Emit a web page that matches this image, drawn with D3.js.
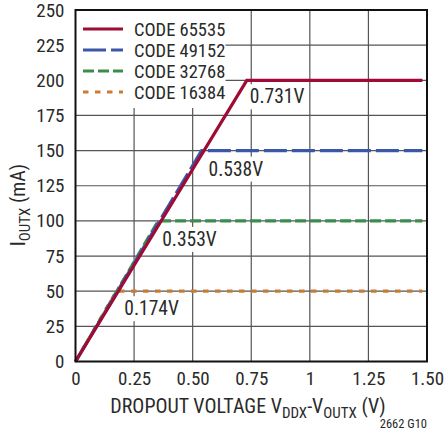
<!DOCTYPE html>
<html><head><meta charset="utf-8">
<script src="https://cdn.jsdelivr.net/npm/d3@7"></script>
<style>
html,body{margin:0;padding:0;background:#fff;}
text{font-family:"Liberation Sans Narrow","Roboto Condensed","Arial Narrow",Arial,sans-serif;fill:#2a2a2a;}
</style></head>
<body><svg id="c" width="445" height="433"></svg>
<script>
const codes = ["CODE 65535","CODE 49152","CODE 32768","CODE 16384"];
const kneeV = [0.731,0.538,0.353,0.174];
const maxI = [200,150,100,50];
const endV = 1.48;
const kneeLabels = ["0.731V","0.538V","0.353V","0.174V"];
const colors = ["#9e0b34","#3b57a9","#3a8d4b","#c97c34"];
const dashes = [null,"23,5","11,4","5.5,6.5"];
const xTicks = [0,0.25,0.5,0.75,1,1.25,1.5];
const xTickLabels = ["0","0.25","0.50","0.75","1","1.25","1.50"];
const yTicks = [0,25,50,75,100,125,150,175,200,225,250];

const svg = d3.select("#c");
const L=75.5,R=427,T=10,B=361.5;
const x = d3.scaleLinear().domain([0,1.5]).range([L,R]);
const y = d3.scaleLinear().domain([0,250]).range([B,T]);

// grid
const g = svg.append("g");
g.selectAll("line.v").data(xTicks.slice(1,-1)).join("line")
  .attr("x1",d=>x(d)).attr("x2",d=>x(d)).attr("y1",T).attr("y2",B)
  .attr("stroke","#555").attr("stroke-width",1.2);
g.selectAll("line.h").data(yTicks.slice(1,-1)).join("line")
  .attr("x1",L).attr("x2",R).attr("y1",d=>y(d)).attr("y2",d=>y(d))
  .attr("stroke","#555").attr("stroke-width",1.2);

// legend background
svg.append("rect").attr("x",L).attr("y",T).attr("width",150).attr("height",98).attr("fill","#fff");

// knee labels
const lab = svg.append("g").style("font-size","19.5px");
const labNodes = kneeLabels.map((t,i)=>{
  const tx = x(kneeV[i]) + [3,7,4,8][i];
  const ty = y(maxI[i]) + [23,25,25,24][i];
  return lab.append("text").attr("x",tx).attr("y",ty).text(t);
});
const bgG = svg.insert("g", () => lab.node());
labNodes.forEach(n=>{
  const b = n.node().getBBox();
  bgG.append("rect").attr("x",b.x-2).attr("y",b.y-1).attr("width",b.width+4).attr("height",b.height+2).attr("fill","#fff");
});

// data lines
const line = d3.line().x(d=>x(d[0])).y(d=>y(d[1]));
const dl = svg.append("g");
[3,2,1,0].forEach(i=>{
  const pts = [[0,0],[kneeV[i],maxI[i]],[endV,maxI[i]]];
  dl.append("path").attr("d",line(pts)).attr("fill","none")
    .attr("stroke",colors[i]).attr("stroke-width",3.2)
    .attr("stroke-dasharray",dashes[i]);
});
lab.raise();

// legend
const lg = svg.append("g");
codes.forEach((c,i)=>{
  const cy = 29 + i*21;
  lg.append("line").attr("x1",83).attr("x2",123).attr("y1",cy).attr("y2",cy)
    .attr("stroke",colors[i]).attr("stroke-width",3.2).attr("stroke-dasharray",dashes[i]);
  lg.append("text").attr("x",134).attr("y",cy+7).style("font-size","18.5px").text(c);
});

// frame
svg.append("rect").attr("x",L).attr("y",T).attr("width",R-L).attr("height",B-T)
  .attr("fill","none").attr("stroke","#111").attr("stroke-width",2);

// axes
const xa = svg.append("g").attr("transform",`translate(0,${B})`)
  .call(d3.axisBottom(x).tickValues(xTicks).tickFormat((d,i)=>xTickLabels[i]).tickSize(0).tickPadding(10));
xa.select(".domain").remove();
xa.selectAll("text").style("font-size","19px").attr("fill","#2a2a2a");
const ya = svg.append("g").attr("transform",`translate(${L},0)`)
  .call(d3.axisLeft(y).tickValues(yTicks).tickSize(0).tickPadding(11));
ya.select(".domain").remove();
ya.selectAll("text").style("font-size","19px").attr("fill","#2a2a2a");

// axis titles
const xt = svg.append("text").attr("x",248).attr("y",413).attr("text-anchor","middle").style("font-size","20px");
xt.append("tspan").text("DROPOUT VOLTAGE V");
xt.append("tspan").attr("dy",5).style("font-size","15px").text("DDX");
xt.append("tspan").attr("dy",-5).text("-V");
xt.append("tspan").attr("dy",5).style("font-size","15px").text("OUTX");
xt.append("tspan").attr("dy",-5).text(" (V)");

const yt = svg.append("text").attr("transform","translate(25,205) rotate(-90)").attr("text-anchor","middle").style("font-size","20px");
yt.append("tspan").text("I");
yt.append("tspan").attr("dy",5).style("font-size","15px").text("OUTX");
yt.append("tspan").attr("dy",-5).text(" (mA)");

svg.append("text").attr("x",427).attr("y",428).attr("text-anchor","end").style("font-size","12.5px").text("2662 G10");
</script></body></html>
